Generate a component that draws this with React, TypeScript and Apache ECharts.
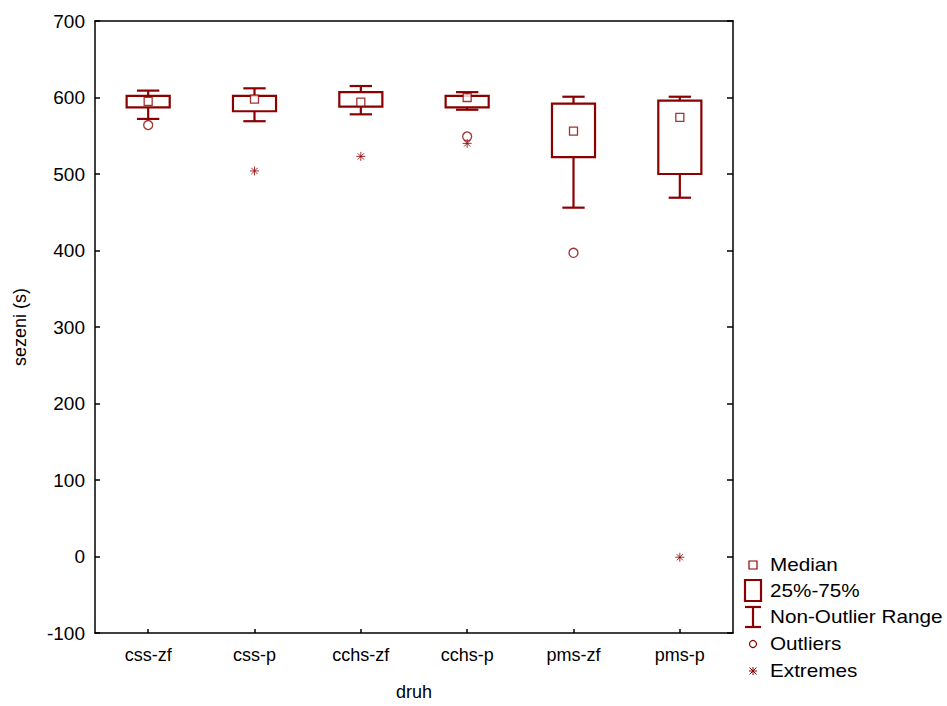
import React, { useEffect, useRef } from "react";
import * as echarts from "echarts";

const categories = ["css-zf", "css-p", "cchs-zf", "cchs-p", "pms-zf", "pms-p"];
const whiskerLow = [572, 569, 578, 584, 456, 469];
const q1 = [587, 582, 588, 587, 522, 500];
const median = [595, 598, 594, 600, 556, 574];
const q3 = [602, 602, 607, 602, 592, 596];
const whiskerHigh = [609, 612, 615, 607, 601, 601];
const outliers: [number, number][] = [
  [0, 564],
  [3, 549],
  [4, 397],
];
const extremes: [number, number][] = [
  [1, 504],
  [2, 523],
  [3, 540],
  [5, -1],
];
const yTicks = { min: -100, max: 700, interval: 100 };
const legendLabels = ["Median", "25%-75%", "Non-Outlier Range", "Outliers", "Extremes"];

const RED = "#8b0000";
const FONT = "'Liberation Sans', Arial, sans-serif";

export default function App() {
  const ref = useRef<HTMLDivElement>(null);
  useEffect(() => {
    if (!ref.current) return;
    const chart = echarts.init(ref.current, null, { renderer: "svg" });
    const boxData = categories.map((_, i) => [i, whiskerLow[i], q1[i], q3[i], whiskerHigh[i]]);

    const lx = 753;
    const ly = [565, 591, 617, 644, 671];
    const legendGraphics: any[] = [
      { type: "rect", shape: { x: lx - 4, y: ly[0] - 4, width: 8, height: 8 }, style: { fill: "#fff", stroke: RED, lineWidth: 1.2 } },
      { type: "rect", shape: { x: lx - 8, y: ly[1] - 11, width: 16, height: 21 }, style: { fill: "#fff", stroke: RED, lineWidth: 2.2 } },
      { type: "line", shape: { x1: lx - 8, y1: ly[2] - 10, x2: lx + 8, y2: ly[2] - 10 }, style: { stroke: RED, lineWidth: 2.2 } },
      { type: "line", shape: { x1: lx - 8, y1: ly[2] + 10, x2: lx + 8, y2: ly[2] + 10 }, style: { stroke: RED, lineWidth: 2.2 } },
      { type: "line", shape: { x1: lx, y1: ly[2] - 10, x2: lx, y2: ly[2] + 10 }, style: { stroke: RED, lineWidth: 2.2 } },
      { type: "circle", shape: { cx: lx, cy: ly[3], r: 3.5 }, style: { fill: "#fff", stroke: RED, lineWidth: 1.2 } },
      { type: "line", shape: { x1: lx, y1: ly[4] - 4, x2: lx, y2: ly[4] + 4 }, style: { stroke: RED, lineWidth: 1 } },
      { type: "line", shape: { x1: lx - 4, y1: ly[4], x2: lx + 4, y2: ly[4] }, style: { stroke: RED, lineWidth: 1 } },
      { type: "line", shape: { x1: lx - 3.5, y1: ly[4] - 3.5, x2: lx + 3.5, y2: ly[4] + 3.5 }, style: { stroke: RED, lineWidth: 1 } },
      { type: "line", shape: { x1: lx + 3.5, y1: ly[4] - 3.5, x2: lx - 3.5, y2: ly[4] + 3.5 }, style: { stroke: RED, lineWidth: 1 } },
      ...legendLabels.map((t, i) => ({
        type: "text",
        x: 770,
        y: ly[i],
        scaleX: 1.15,
        style: { text: t, fill: "#000", font: `18px ${FONT}`, textVerticalAlign: "middle", verticalAlign: "middle" },
      })),
    ];

    const axisLineStyle = { color: "#000", width: 1.5 };
    const option: any = {
      animation: false,
      backgroundColor: "#fff",
      textStyle: { fontFamily: FONT },
      grid: { left: 95, right: 214, top: 21, bottom: 68, containLabel: false },
      xAxis: [
        {
          type: "category",
          data: categories,
          position: "bottom",
          boundaryGap: true,
          name: "druh",
          nameLocation: "middle",
          nameGap: 50,
          nameTextStyle: { fontSize: 18, color: "#000", fontFamily: FONT },
          axisLine: { show: true, onZero: false, lineStyle: axisLineStyle },
          axisTick: { show: true, inside: true, length: 4, alignWithLabel: true, lineStyle: axisLineStyle },
          axisLabel: { fontSize: 18, color: "#000", margin: 13, fontFamily: FONT },
          splitLine: { show: false },
        },
        {
          type: "category",
          data: categories,
          position: "top",
          axisLine: { show: true, onZero: false, lineStyle: axisLineStyle },
          axisTick: { show: false },
          axisLabel: { show: false },
          splitLine: { show: false },
        },
      ],
      yAxis: [
        {
          type: "value",
          min: yTicks.min,
          max: yTicks.max,
          interval: yTicks.interval,
          position: "left",
          name: "sezeni (s)",
          nameLocation: "middle",
          nameGap: 66,
          nameRotate: 90,
          nameTextStyle: { fontSize: 18, color: "#000", fontFamily: FONT },
          axisLine: { show: true, onZero: false, lineStyle: axisLineStyle },
          axisTick: { show: true, inside: true, length: 5, lineStyle: axisLineStyle },
          axisLabel: { fontSize: 19, color: "#000", margin: 10, fontFamily: FONT },
          splitLine: { show: false },
        },
        {
          type: "value",
          min: yTicks.min,
          max: yTicks.max,
          interval: yTicks.interval,
          position: "right",
          axisLine: { show: true, onZero: false, lineStyle: axisLineStyle },
          axisTick: { show: true, inside: true, length: 6, lineStyle: axisLineStyle },
          axisLabel: { show: false },
          splitLine: { show: false },
        },
      ],
      series: [
        {
          type: "custom",
          name: "box",
          xAxisIndex: 0,
          yAxisIndex: 0,
          data: boxData,
          encode: { x: 0, y: [1, 2, 3, 4] },
          z: 2,
          renderItem: (params: any, api: any) => {
            const x = api.value(0);
            const pLo = api.coord([x, api.value(1)]);
            const pQ1 = api.coord([x, api.value(2)]);
            const pQ3 = api.coord([x, api.value(3)]);
            const pHi = api.coord([x, api.value(4)]);
            const bw = api.size([1, 0])[0];
            const boxW = bw * 0.405;
            const capW = bw * 0.21;
            const cx = pLo[0];
            const st = { stroke: RED, lineWidth: 2.2, fill: "none" };
            return {
              type: "group",
              children: [
                { type: "line", shape: { x1: cx, y1: pHi[1], x2: cx, y2: pQ3[1] }, style: st },
                { type: "line", shape: { x1: cx, y1: pQ1[1], x2: cx, y2: pLo[1] }, style: st },
                { type: "line", shape: { x1: cx - capW / 2, y1: pHi[1], x2: cx + capW / 2, y2: pHi[1] }, style: st },
                { type: "line", shape: { x1: cx - capW / 2, y1: pLo[1], x2: cx + capW / 2, y2: pLo[1] }, style: st },
                {
                  type: "rect",
                  shape: { x: cx - boxW / 2, y: pQ3[1], width: boxW, height: pQ1[1] - pQ3[1] },
                  style: { stroke: RED, lineWidth: 2.2, fill: "#fff" },
                },
              ],
            };
          },
        },
        {
          type: "scatter",
          name: "Median",
          data: median.map((v, i) => [i, v]),
          symbol: "rect",
          symbolSize: 8,
          z: 5,
          itemStyle: { color: "#fff", borderColor: RED, borderWidth: 1.3 },
        },
        {
          type: "scatter",
          name: "Outliers",
          data: outliers,
          symbol: "circle",
          symbolSize: 9,
          z: 5,
          itemStyle: { color: "#fff", borderColor: RED, borderWidth: 1.3 },
        },
        {
          type: "scatter",
          name: "Extremes",
          data: extremes,
          symbol: "path://M4,0L4,8M0,4L8,4M1.2,1.2L6.8,6.8M6.8,1.2L1.2,6.8",
          symbolSize: 9,
          z: 6,
          itemStyle: { color: "none", borderColor: RED, borderWidth: 1 },
        },
      ],
      graphic: legendGraphics,
    };
    chart.setOption(option);
    return () => chart.dispose();
  }, []);
  return (
    <div
      ref={ref}
      style={{ position: "fixed", left: 0, top: 0, width: 947, height: 706, background: "#fff" }}
    />
  );
}
